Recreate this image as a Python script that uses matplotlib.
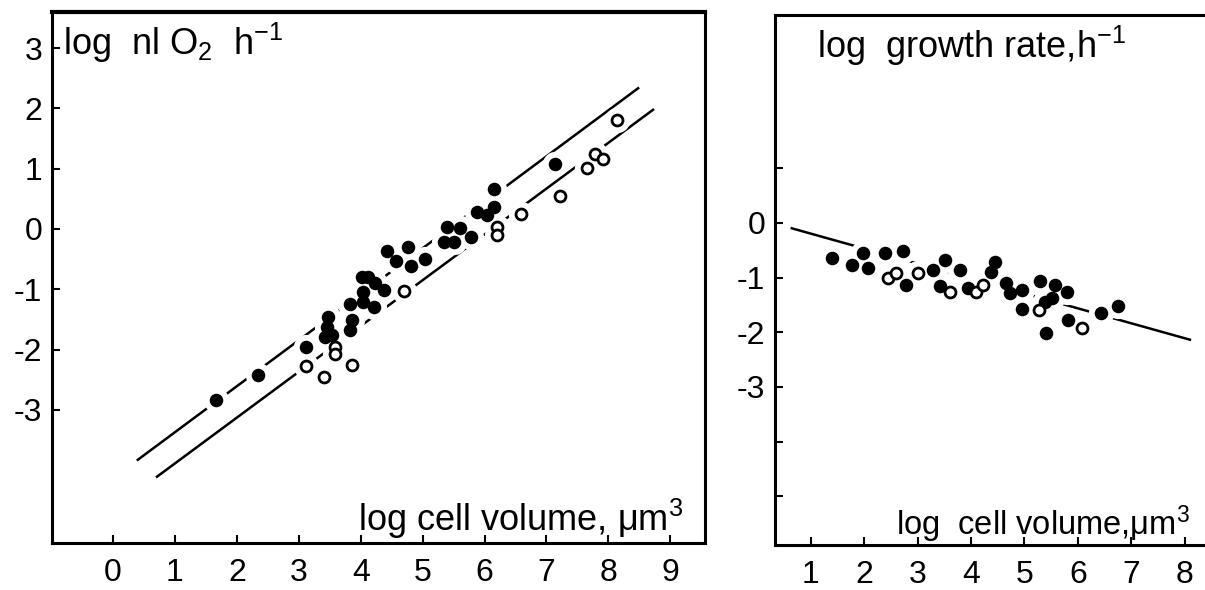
import matplotlib
matplotlib.use("Agg")
import matplotlib.pyplot as plt

plt.rcParams['font.family'] = ['Liberation Sans', 'DejaVu Sans']
plt.rcParams['axes.unicode_minus'] = False
plt.rcParams['mathtext.fontset'] = 'custom'
plt.rcParams['mathtext.rm'] = 'Liberation Sans'
plt.rcParams['mathtext.it'] = 'Liberation Sans'

# --- respiration (log nl O2 per h) vs log cell volume ---
resp_filled_x = [1.66, 2.34, 3.12, 3.48, 3.45, 3.42, 3.53, 3.83, 3.86, 3.82,
                 4.02, 4.12, 4.03, 4.04, 4.23, 4.37, 4.21, 4.42, 4.57, 4.77,
                 4.81, 5.04, 5.39, 5.61, 5.34, 5.50, 5.78, 5.88, 6.04, 6.16,
                 6.16, 7.14]
resp_filled_y = [-2.84, -2.43, -1.96, -1.46, -1.62, -1.79, -1.76, -1.24, -1.51, -1.67,
                 -0.79, -0.79, -1.04, -1.21, -0.90, -1.01, -1.29, -0.36, -0.53, -0.30,
                 -0.62, -0.50, 0.04, 0.01, -0.21, -0.21, -0.13, 0.29, 0.23, 0.37,
                 0.67, 1.08]
resp_open_x = [3.12, 3.40, 3.86, 3.59, 3.59, 4.70, 6.20, 6.20, 6.59, 7.22,
               7.65, 7.79, 7.91, 8.14]
resp_open_y = [-2.28, -2.45, -2.26, -1.96, -2.07, -1.03, 0.04, -0.10, 0.25, 0.55,
               1.01, 1.24, 1.16, 1.80]
# regression lines: slope, intercept, x start, x end
resp_line_upper = (0.763, -4.135, 0.40, 8.48)
resp_line_lower = (0.760, -4.650, 0.71, 8.72)

# --- growth rate (log per h) vs log cell volume ---
growth_filled_x = [1.39, 1.76, 1.98, 2.07, 2.39, 2.73, 2.78, 3.29, 3.51, 3.79,
                   3.42, 3.95, 4.45, 4.38, 4.66, 4.73, 4.95, 5.29, 5.57, 5.79,
                   5.51, 5.38, 4.96, 5.41, 5.82, 6.44, 6.75]
growth_filled_y = [-0.65, -0.77, -0.55, -0.83, -0.55, -0.52, -1.13, -0.86, -0.68, -0.86,
                   -1.16, -1.19, -0.71, -0.89, -1.10, -1.29, -1.22, -1.07, -1.13, -1.26,
                   -1.38, -1.44, -1.58, -2.02, -1.77, -1.65, -1.52]
growth_open_x = [2.45, 2.60, 3.01, 3.60, 4.10, 4.23, 5.27, 6.07]
growth_open_y = [-1.01, -0.92, -0.91, -1.26, -1.26, -1.13, -1.59, -1.93]
growth_line = (-0.273, 0.075, 0.64, 8.10)


def draw_line(ax, fit):
    slope, icpt, x0, x1 = fit
    ax.plot([x0, x1], [slope * x0 + icpt, slope * x1 + icpt],
            color="black", lw=1.8, zorder=2)


def draw_points(ax, fx, fy, ox, oy):
    # white discs under the symbols break the lines around the points
    ax.scatter(fx + ox, fy + oy, s=330, color="white", lw=0, zorder=3)
    ax.scatter(fx, fy, s=95, color="black", lw=0, zorder=4)
    ax.scatter(ox, oy, s=62, facecolor="white", edgecolor="black", lw=2.0, zorder=5)


def style_axes(ax):
    for side in ax.spines.values():
        side.set_linewidth(2.2)
    ax.tick_params(direction="in", length=6, width=1.5, labelsize=23)
    ax.tick_params(axis="y", pad=7)
    ax.tick_params(axis="x", pad=11)


fig = plt.figure(figsize=(12.05, 5.9), dpi=100)

ax1 = fig.add_axes([52 / 1205, 47 / 590, 653 / 1205, 531 / 590])
draw_line(ax1, resp_line_upper)
draw_line(ax1, resp_line_lower)
draw_points(ax1, resp_filled_x, resp_filled_y, resp_open_x, resp_open_y)
ax1.set_xlim(-0.985, 9.56)
ax1.set_ylim(-5.21, 3.60)
ax1.set_xticks(range(0, 10))
ax1.set_yticks([3, 2, 1, 0, -1, -2, -3])
style_axes(ax1)
ax1.spines["top"].set_linewidth(3)
ax1.text(0.017, 0.919, "log  nl O$_2$  h$^{-1}$", transform=ax1.transAxes,
         fontsize=26, va="baseline", ha="left")
ax1.text(0.966, 0.023, "log cell volume, μm$^3$", transform=ax1.transAxes,
         fontsize=26, va="baseline", ha="right")

ax2 = fig.add_axes([775 / 1205, 45 / 590, 440 / 1205, 530 / 590])
draw_line(ax2, growth_line)
draw_points(ax2, growth_filled_x, growth_filled_y, growth_open_x, growth_open_y)
ax2.set_xlim(0.326, 8.57)
ax2.set_ylim(-5.89, 3.80)
ax2.set_xticks(range(1, 9))
ax2.set_yticks([1, 0, -1, -2, -3, -4, -5])
ax2.set_yticklabels(["", "0", "-1", "-2", "-3", "", ""])
style_axes(ax2)
ax2.text(0.095, 0.919, "log  growth rate,h$^{-1}$", transform=ax2.transAxes,
         fontsize=26, va="baseline", ha="left")
ax2.text(0.275, 0.019, "log  cell volume,μm$^3$", transform=ax2.transAxes,
         fontsize=23.5, va="baseline", ha="left")

fig.savefig("out.png", dpi=100)
